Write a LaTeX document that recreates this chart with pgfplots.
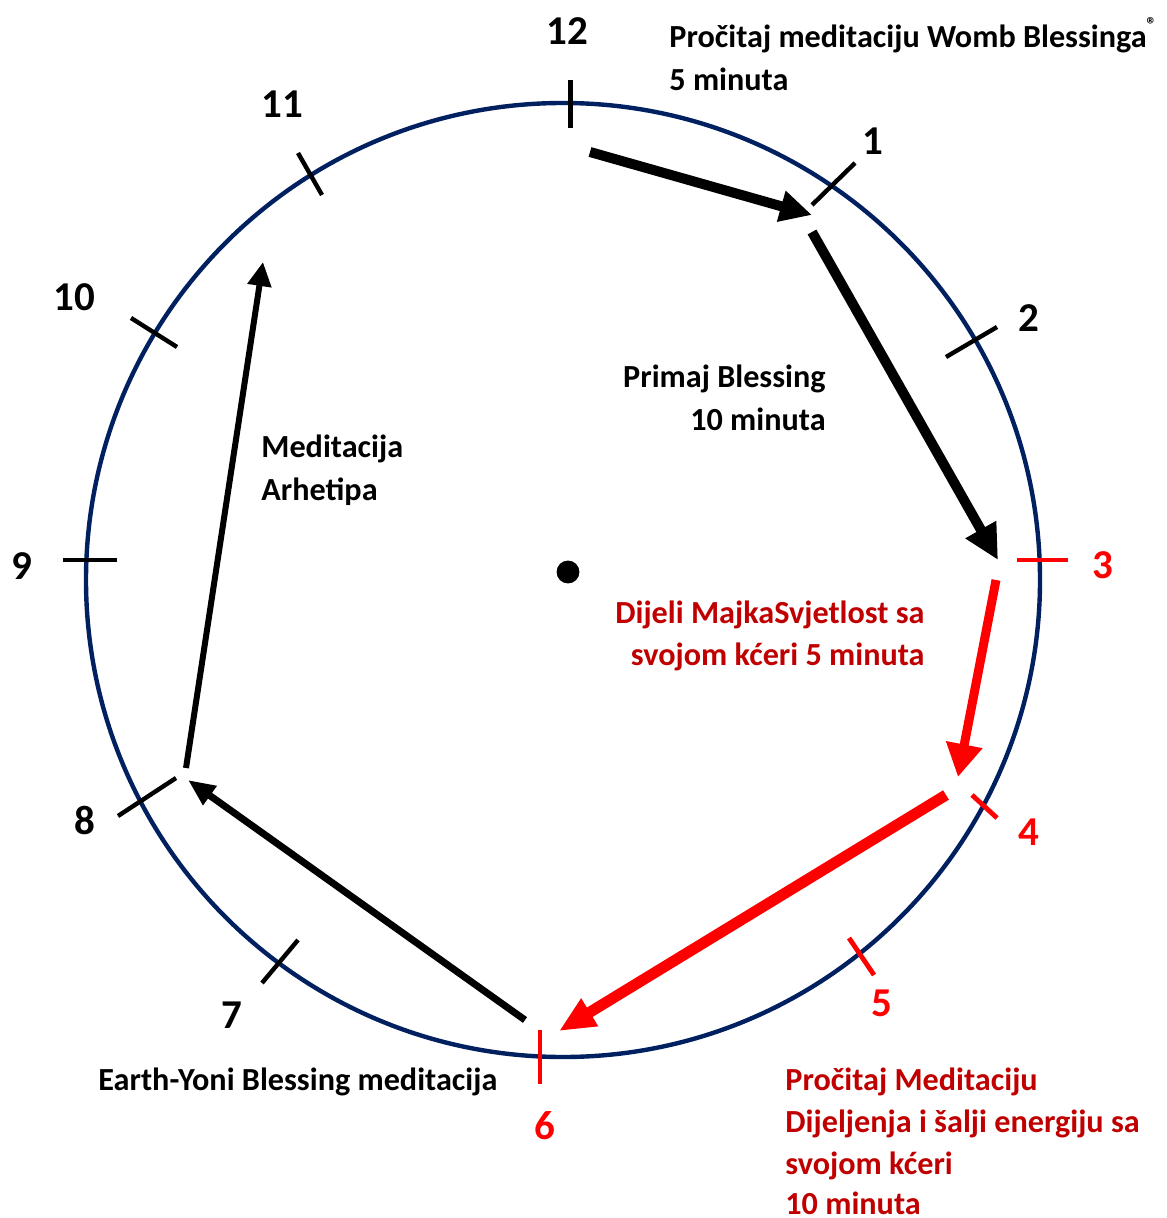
\documentclass[border=0pt]{standalone}
\usepackage{fontspec}
\setmainfont{Carlito}
\usepackage{pgfplots}
\pgfplotsset{compat=1.18}
\usetikzlibrary{arrows.meta}
\definecolor{navy}{HTML}{002060}
\definecolor{dred}{HTML}{C00000}
\definecolor{bred}{HTML}{FF0000}
\tikzset{
    lbl/.style={font=\fontsize{16.1}{18}\selectfont\bfseries, inner sep=0pt},
    num/.style={font=\fontsize{20.5}{24}\selectfont\bfseries, inner sep=0pt},
    tk/.style={black, line width=2.2pt},
    rtk/.style={bred, line width=2.4pt},
}

\begin{document}
\begin{tikzpicture}
\begin{axis}[
    x=0.5pt, y=0.5pt, y dir=reverse,
    xmin=0, xmax=1166, ymin=0, ymax=1218,
    hide axis, clip=false,
]
% clock face
\draw[navy, line width=2.2pt] (axis cs:563,580) circle[radius=238.5pt];
\addplot[only marks, mark=*, mark size=5.5pt, black] coordinates {(568,572)};

% hour ticks
\addplot[tk, line width=2.5pt] coordinates {(570,80) (570,128)};
\addplot[tk] coordinates {(855,163) (812,205)};
\addplot[tk] coordinates {(997,327) (946,357)};
\addplot[rtk] coordinates {(1017,560) (1068,560)};
\addplot[rtk] coordinates {(972,795) (997,818)};
\addplot[rtk] coordinates {(849,938) (874,975)};
\addplot[rtk] coordinates {(540,1030) (540,1084)};
\addplot[tk] coordinates {(298,940) (262,983)};
\addplot[tk] coordinates {(118,816) (176,778)};
\addplot[tk] coordinates {(63,560) (117,560)};
\addplot[tk] coordinates {(131,318) (177,347)};
\addplot[tk] coordinates {(298,153) (322,195)};

% arrows
\addplot[black, line width=5pt, -{Triangle[length=16pt,width=15pt]}] coordinates {(590,152) (812,215)};
\addplot[black, line width=5pt, -{Triangle[length=17.5pt,width=16.5pt]}] coordinates {(812,232) (998,560)};
\addplot[bred, line width=4.5pt, -{Triangle[length=16.5pt,width=17.5pt]}] coordinates {(996,580) (958,777)};
\addplot[bred, line width=5.5pt, -{Triangle[length=18pt,width=15pt]}] coordinates {(946,795) (559,1031)};
\addplot[black, line width=3.5pt, -{Triangle[length=13.5pt,width=11pt]}] coordinates {(525,1020) (188,780)};
\addplot[black, line width=3pt, -{Triangle[length=12pt,width=11.5pt]}] coordinates {(186,768) (263,262)};

% hour numbers
\node[num] at (axis cs:567,31) {12};
\node[num] at (axis cs:873,141) {1};
\node[num] at (axis cs:1029,318) {2};
\node[num, bred] at (axis cs:1103,565) {3};
\node[num, bred] at (axis cs:1029,832) {4};
\node[num, bred] at (axis cs:882,1003) {5};
\node[num, bred] at (axis cs:545,1126) {6};
\node[num] at (axis cs:232,1015) {7};
\node[num] at (axis cs:85,820) {8};
\node[num] at (axis cs:22,566) {9};
\node[num] at (axis cs:74,297) {10};
\node[num] at (axis cs:282,104) {11};

% texts
\node[lbl, anchor=base west] at (axis cs:669,48) {Pročitaj meditaciju Womb Blessinga\raisebox{0.5em}{\fontsize{10}{10}\selectfont ®}};
\node[lbl, anchor=base west] at (axis cs:669,91) {5 minuta};
\node[lbl, anchor=base east] at (axis cs:826,388) {Primaj Blessing};
\node[lbl, anchor=base east] at (axis cs:826,431) {10 minuta};
\node[lbl, anchor=base west] at (axis cs:261,458) {Meditacija};
\node[lbl, anchor=base west] at (axis cs:261,501) {Arhetipa};
\node[lbl, dred, anchor=base east] at (axis cs:925,623) {Dijeli MajkaSvjetlost sa};
\node[lbl, dred, anchor=base east] at (axis cs:925,665) {svojom kćeri 5 minuta};
\node[lbl, anchor=base west] at (axis cs:98,1090) {Earth-Yoni Blessing meditacija};
\node[lbl, dred, anchor=base west] at (axis cs:785,1090) {Pročitaj Meditaciju};
\node[lbl, dred, anchor=base west] at (axis cs:785,1132) {Dijeljenja i šalji energiju sa};
\node[lbl, dred, anchor=base west] at (axis cs:785,1174) {svojom kćeri};
\node[lbl, dred, anchor=base west] at (axis cs:785,1214) {10 minuta};

\coordinate (TL) at (axis cs:0,0);
\coordinate (BR) at (axis cs:1166,1218);
\end{axis}
\pgfresetboundingbox
\path (TL) rectangle (BR);
\end{tikzpicture}
\end{document}
